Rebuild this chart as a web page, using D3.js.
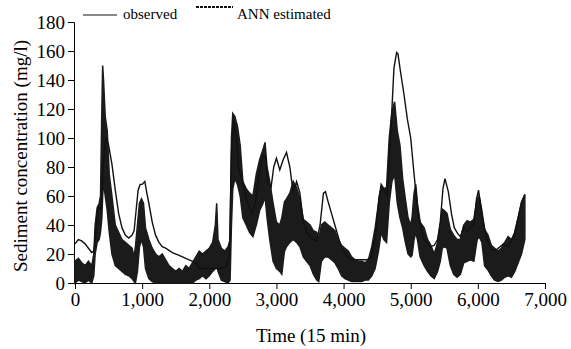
<!DOCTYPE html>
<html lang="en">
<head>
    <meta charset="UTF-8">
    <title>Sediment concentration</title>
    <script src="https://d3js.org/d3.v7.min.js"></script>
    <style>
    body { margin: 0; background: #fff; }
    .axis path, .axis line { stroke: #000; stroke-width: 1px; }
    .axis text { font-family: "Liberation Serif", "Times New Roman", serif; font-size: 19px; fill: #000; }
    .label { font-family: "Liberation Serif", "Times New Roman", serif; fill: #000; }
    </style>
</head>
<body>
<svg id="chart"></svg>
<script>
// observed series (thin line)
const obsTime = [0, 50, 100, 150, 200, 250, 280, 300, 330, 360, 390, 420, 450, 470, 500, 550, 600, 650, 700, 750,
    800, 850, 880, 910, 940, 970, 1000, 1040, 1070, 1100, 1150, 1200, 1250, 1300, 1350, 1450, 1550, 1650, 1750, 1820,
    1850, 1950, 2050, 2150, 2250, 2300, 2330, 2360, 2400, 2440, 2500, 2550, 2600, 2650, 2700, 2750, 2800, 2840, 2870, 2920,
    2960, 3000, 3050, 3100, 3150, 3200, 3250, 3300, 3350, 3400, 3450, 3500, 3550, 3600, 3650, 3700, 3730, 3770, 3820, 3870,
    3920, 3970, 4050, 4150, 4250, 4350, 4420, 4480, 4530, 4560, 4600, 4650, 4680, 4720, 4750, 4790, 4810, 4850, 4900, 4950,
    5000, 5050, 5100, 5150, 5200, 5250, 5300, 5350, 5400, 5440, 5480, 5510, 5560, 5610, 5650, 5700, 5740, 5790, 5840, 5890,
    5940, 5980, 6010, 6060, 6130, 6200, 6280, 6380, 6450, 6530, 6600, 6650, 6700];
const obsValue = [27, 30, 29, 27, 24, 21, 22, 30, 48, 53, 50, 80, 97, 100, 95, 82, 64, 48, 38, 33,
    31, 33, 36, 50, 64, 68, 68, 70, 62, 55, 42, 33, 28, 25, 24, 21, 19, 17, 15, 13,
    10, 10, 10, 10, 11, 20, 90, 112, 100, 78, 70, 58, 52, 48, 60, 78, 88, 86, 70, 66,
    80, 86, 78, 85, 90, 80, 62, 70, 62, 42, 35, 32, 30, 29, 40, 62, 63, 56, 48, 40,
    32, 24, 18, 16, 16, 16, 18, 35, 60, 66, 64, 60, 85, 120, 148, 159, 158, 145, 130, 113,
    100, 75, 52, 38, 30, 27, 25, 26, 30, 42, 65, 72, 63, 47, 38, 34, 32, 39, 35, 39,
    40, 58, 64, 47, 31, 23, 23, 27, 25, 31, 45, 56, 61];

// ANN estimated series: low / high envelope of the noisy band
const annTime = [0, 50, 100, 150, 200, 250, 280, 300, 330, 360, 380, 400, 412, 425, 450, 480, 510, 550, 600, 650,
    700, 750, 800, 850, 880, 900, 930, 960, 990, 1020, 1050, 1100, 1150, 1200, 1250, 1300, 1350, 1400, 1450, 1500,
    1550, 1600, 1650, 1700, 1750, 1800, 1850, 1900, 1950, 2000, 2050, 2090, 2110, 2130, 2180, 2230, 2280, 2310, 2330, 2350,
    2380, 2420, 2460, 2500, 2550, 2600, 2650, 2700, 2750, 2800, 2830, 2860, 2900, 2950, 3000, 3050, 3080, 3120, 3150, 3200,
    3250, 3300, 3350, 3400, 3450, 3500, 3550, 3600, 3630, 3670, 3720, 3770, 3820, 3870, 3920, 3970, 4020, 4070, 4120, 4170,
    4220, 4270, 4320, 4370, 4420, 4470, 4520, 4560, 4600, 4640, 4680, 4720, 4760, 4800, 4840, 4880, 4920, 4960, 5000, 5020,
    5050, 5075, 5100, 5140, 5200, 5250, 5300, 5350, 5400, 5440, 5470, 5500, 5540, 5590, 5640, 5690, 5740, 5790, 5840, 5890,
    5940, 5990, 6020, 6060, 6100, 6150, 6200, 6250, 6300, 6350, 6400, 6450, 6500, 6550, 6600, 6650, 6700];
const annLow = [0, 2, 1, 0, 2, 0, 5, 20, 28, 30, 35, 45, 60, 70, 60, 50, 35, 20, 12, 10,
    8, 6, 5, 3, 1, 0, 8, 25, 30, 25, 10, 3, 1, 0, 0, 0, 0, 0, 0, 0,
    0, 0, 0, 0, 0, 2, 3, 5, 3, 5, 8, 10, 12, 8, 2, 1, 0, 2, 40, 65,
    72, 68, 60, 45, 40, 35, 32, 40, 50, 55, 60, 45, 30, 15, 10, 8, 6, 22, 25, 28,
    30, 28, 25, 18, 15, 12, 6, 2, 1, 15, 18, 18, 16, 14, 10, 5, 3, 2, 1, 1,
    1, 1, 2, 2, 5, 10, 22, 35, 30, 28, 55, 70, 75, 55, 45, 38, 28, 20, 18, 19,
    30, 35, 30, 18, 12, 8, 5, 3, 8, 15, 24, 25, 24, 12, 6, 4, 6, 14, 15, 16,
    15, 30, 32, 28, 12, 9, 5, 2, 1, 2, 4, 5, 4, 8, 14, 20, 30];
const annHigh = [15, 17, 14, 12, 15, 12, 20, 40, 52, 55, 60, 120, 150, 140, 115, 105, 75, 60, 40, 35,
    30, 28, 26, 24, 18, 25, 40, 55, 58, 55, 38, 30, 24, 20, 18, 20, 16, 12, 10, 8,
    10, 8, 12, 10, 14, 18, 22, 20, 22, 24, 28, 40, 55, 30, 24, 22, 25, 30, 100, 117,
    115, 108, 95, 70, 65, 62, 60, 75, 85, 92, 97, 80, 70, 55, 42, 40, 45, 56, 58, 62,
    70, 66, 58, 44, 42, 40, 36, 35, 30, 40, 42, 40, 38, 36, 30, 26, 24, 22, 18, 16,
    15, 15, 14, 16, 25, 38, 55, 68, 65, 66, 100, 118, 125, 105, 95, 72, 58, 45, 40, 45,
    62, 68, 55, 42, 38, 30, 26, 20, 28, 40, 51, 50, 48, 37, 33, 30, 30, 40, 43, 42,
    44, 58, 60, 50, 37, 33, 26, 24, 22, 24, 28, 32, 30, 35, 45, 55, 61];

const xTicks = [0, 1000, 2000, 3000, 4000, 5000, 6000, 7000];
const yTicks = [0, 20, 40, 60, 80, 100, 120, 140, 160, 180];

const width = 571, height = 349;
const svg = d3.select('#chart')
    .attr('width', width)
    .attr('height', height);

const x = d3.scaleLinear().domain([0, 7000]).range([75, 545]);
const y = d3.scaleLinear().domain([0, 180]).range([283, 22]);

// x axis
svg.append('g')
    .attr('class', 'axis')
    .attr('transform', `translate(0, ${y(0)})`)
    .call(d3.axisBottom(x).tickValues(xTicks).tickFormat(d3.format(',')).tickSizeOuter(0).tickSize(6).tickPadding(4))
    .call(g => g.select('.domain').attr('stroke', '#777'))
    .selectAll('text').attr('dy', '0.71em');

// y axis
svg.append('g')
    .attr('class', 'axis')
    .attr('transform', `translate(${x(0) - 1}, 0)`)
    .call(d3.axisLeft(y).tickValues(yTicks).tickSizeOuter(0).tickSize(6).tickPadding(3));

svg.selectAll('.axis text')
    .attr('font-family', '"Liberation Serif", serif')
    .attr('font-size', 19);

// ANN band
const annData = annTime.map((t, i) => ({ t: t, lo: annLow[i], hi: annHigh[i] }));
svg.append('path')
    .datum(annData)
    .attr('fill', '#1b1b1b')
    .attr('stroke', '#1b1b1b')
    .attr('stroke-width', 1.5)
    .attr('d', d3.area()
        .x(d => x(d.t))
        .y0(d => y(d.lo))
        .y1(d => y(d.hi)));

// observed line
const obsData = obsTime.map((t, i) => ({ t: t, v: obsValue[i] }));
svg.append('path')
    .datum(obsData)
    .attr('fill', 'none')
    .attr('stroke', '#111')
    .attr('stroke-width', 1.4)
    .attr('d', d3.line()
        .x(d => x(d.t))
        .y(d => y(d.v)));

// axis titles
svg.append('text')
    .attr('class', 'label')
    .attr('x', 311)
    .attr('y', 342)
    .attr('text-anchor', 'middle')
    .attr('font-size', 19)
    .text('Time (15 min)');

svg.append('text')
    .attr('class', 'label')
    .attr('transform', 'translate(27, 156) rotate(-90)')
    .attr('text-anchor', 'middle')
    .attr('font-size', 19)
    .text('Sediment concentration (mg/l)');

// legend
svg.append('line')
    .attr('x1', 83).attr('x2', 117)
    .attr('y1', 15).attr('y2', 15)
    .attr('stroke', '#111').attr('stroke-width', 1);
svg.append('text')
    .attr('class', 'label')
    .attr('x', 123).attr('y', 19)
    .attr('font-size', 15)
    .text('observed');

svg.append('line')
    .attr('x1', 196).attr('x2', 233)
    .attr('y1', 7).attr('y2', 7)
    .attr('stroke', '#111').attr('stroke-width', 2)
    .attr('stroke-dasharray', '3,1');
svg.append('text')
    .attr('class', 'label')
    .attr('x', 237).attr('y', 19)
    .attr('font-size', 15)
    .text('ANN estimated');
</script>
</body>
</html>
